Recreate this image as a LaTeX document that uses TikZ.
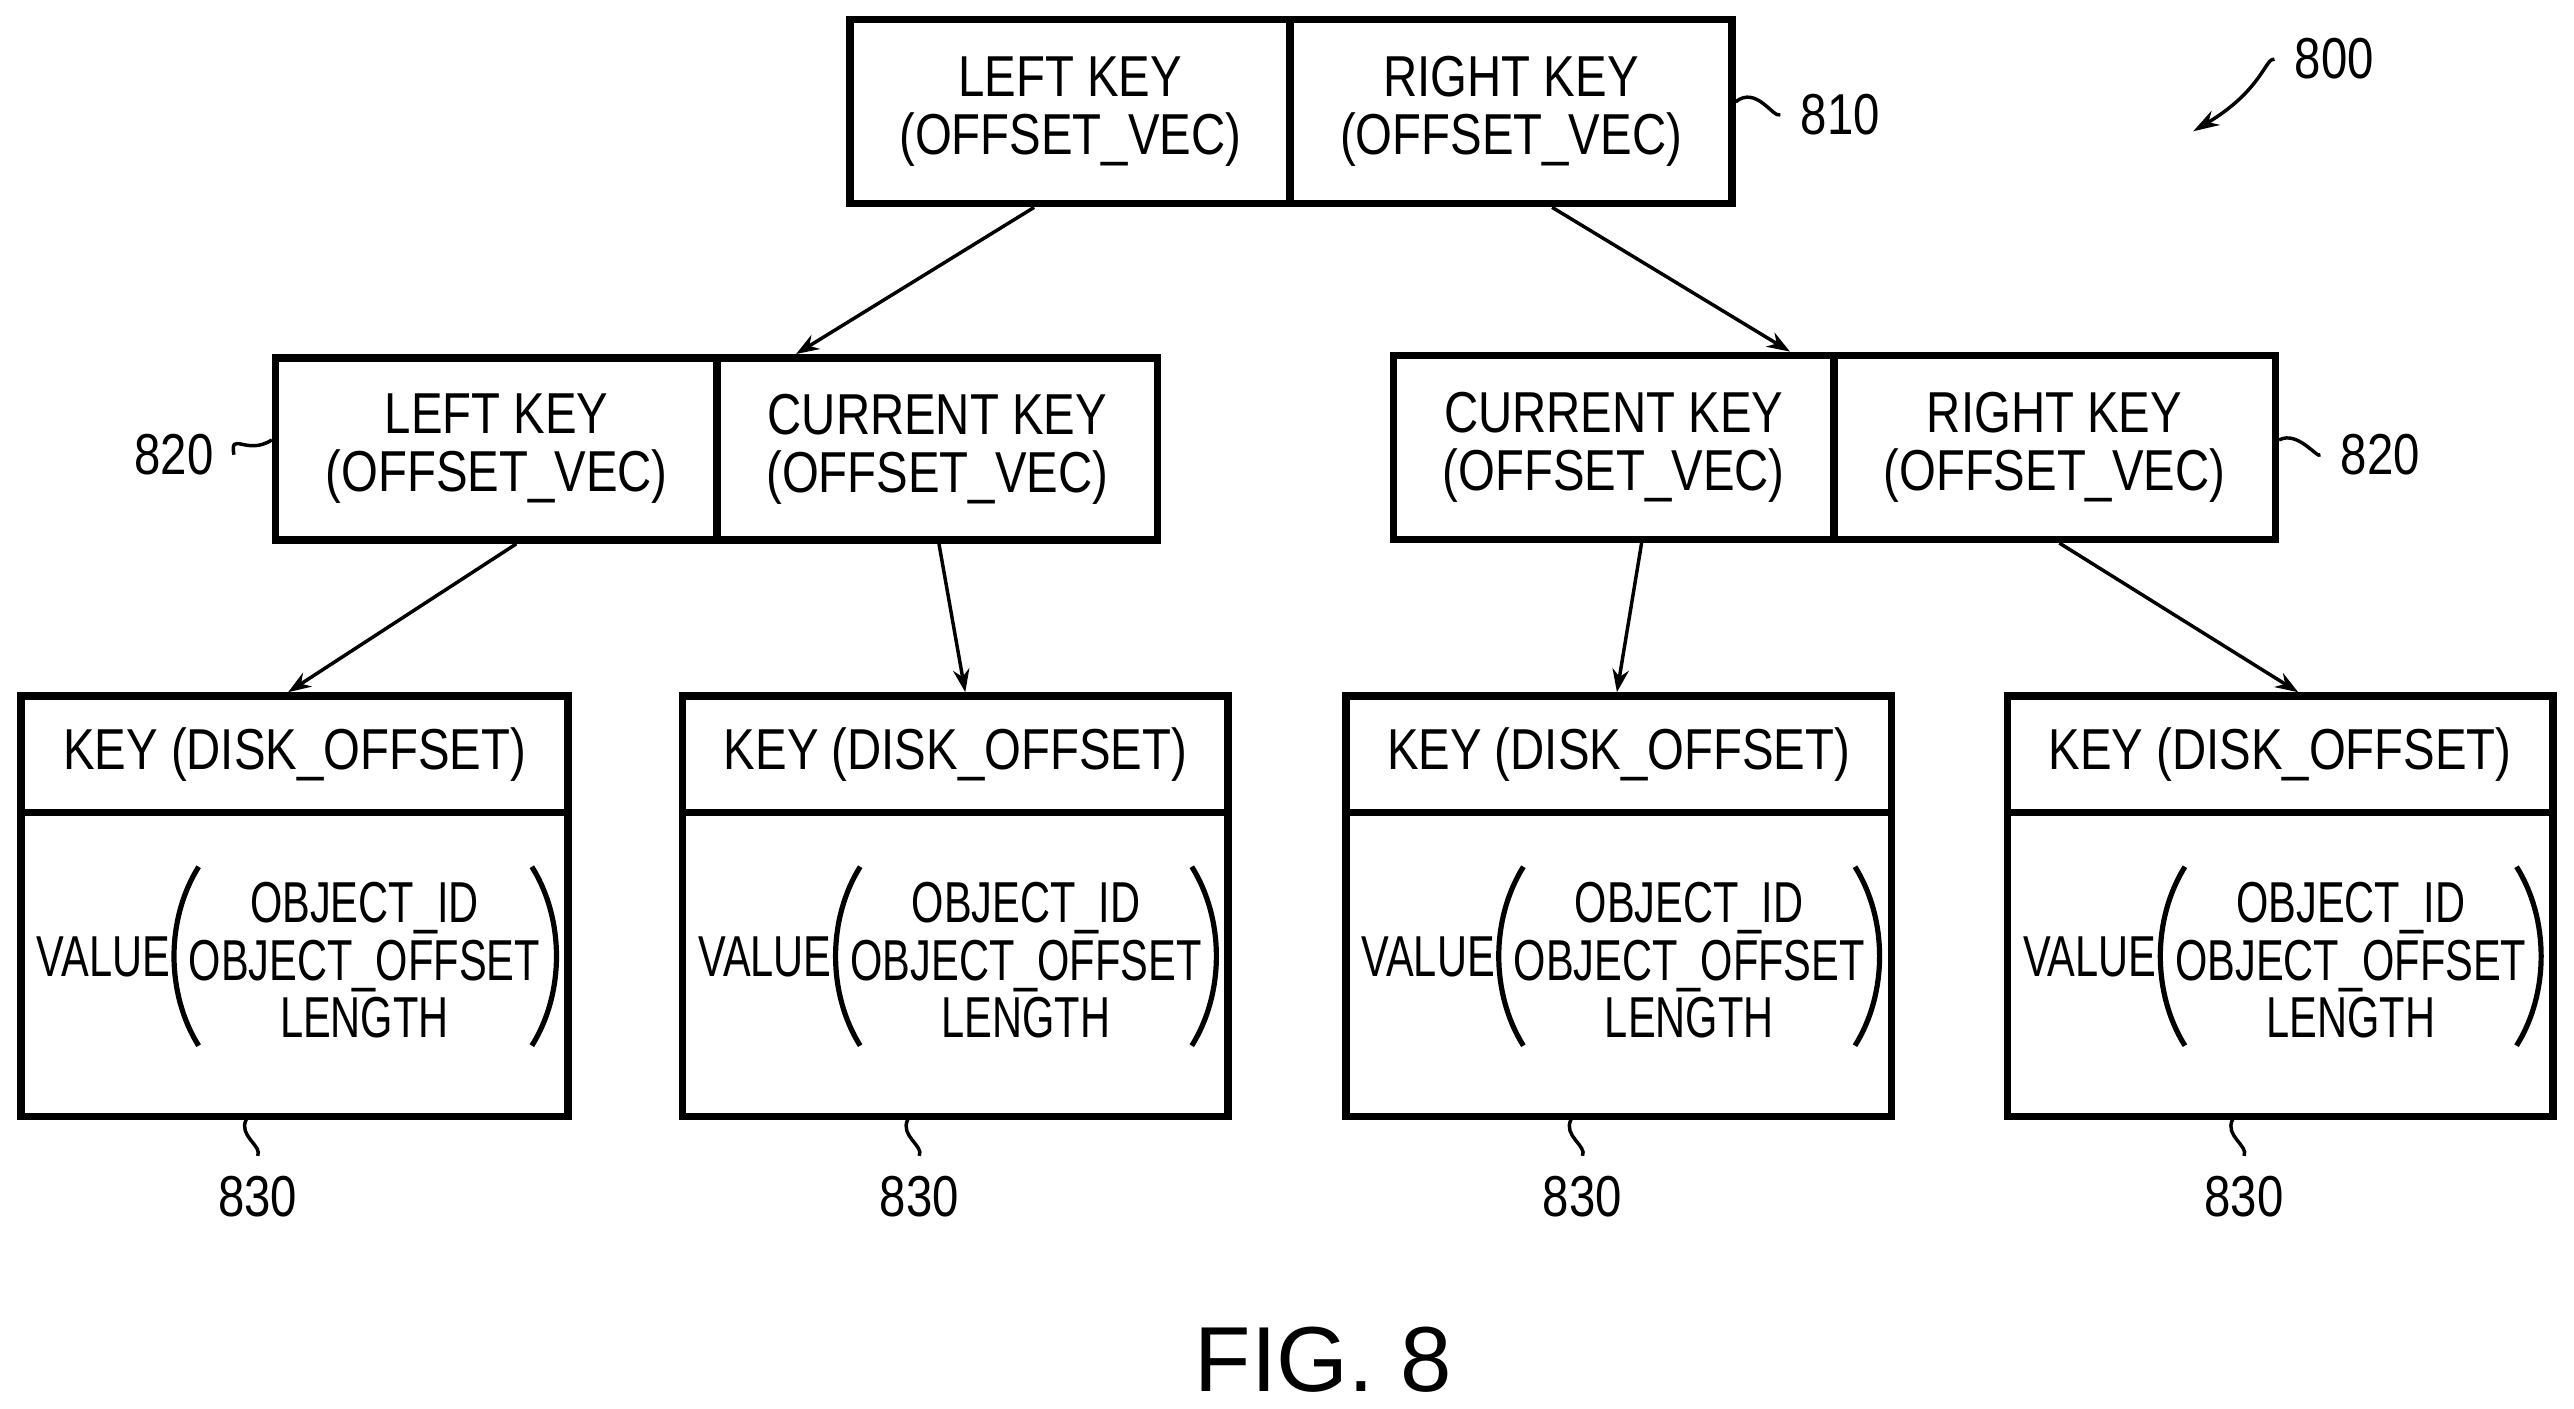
\documentclass[tikz,border=0pt]{standalone}
\usepackage{fontspec}
\setmainfont{Liberation Sans}[FakeStretch=0.82]
\newfontfamily\capfont{Liberation Sans}
\newfontfamily\narrowfont{Liberation Sans}[FakeStretch=0.72]
\usetikzlibrary{arrows.meta}
\begin{document}
\begin{tikzpicture}[x=0.01cm,y=-0.01cm,
  cell/.style={draw,line width=1.3pt,inner sep=0pt,align=center,font=\fontsize{10}{10}\selectfont},
  arr/.style={line width=0.6pt,-{Stealth[length=0.14cm,width=0.1cm,fill=gray!60]}},
  lead/.style={line width=0.6pt},
  lab/.style={font=\fontsize{10}{12}\selectfont},
  nar/.style={inner sep=0pt,font=\narrowfont\fontsize{10}{10}\selectfont}]
\useasboundingbox (0,0) rectangle (1568,858);
% root
\node[cell,minimum width=2.68cm,minimum height=1.12cm] (rL) at (652,68) {LEFT KEY\\(OFFSET\_VEC)};
\node[cell,minimum width=2.69cm,minimum height=1.12cm] (rR) at (920.5,68) {RIGHT KEY\\(OFFSET\_VEC)};
% mid left
\node[cell,minimum width=2.69cm,minimum height=1.11cm] (aL) at (302.5,273.5) {LEFT KEY\\(OFFSET\_VEC)};
\node[cell,minimum width=2.68cm,minimum height=1.11cm] (aR) at (571,273.5) {CURRENT KEY\\(OFFSET\_VEC)};
% mid right
\node[cell,minimum width=2.68cm,minimum height=1.12cm] (bL) at (983,272.5) {CURRENT KEY\\(OFFSET\_VEC)};
\node[cell,minimum width=2.69cm,minimum height=1.12cm] (bR) at (1251.5,272.5) {RIGHT KEY\\(OFFSET\_VEC)};
% leaves
\foreach \i/\l/\r in {1/13/346,2/416/748,3/820/1152,4/1223/1555}{
  \pgfmathsetmacro\w{(\r-\l)/100}
  \node[cell,minimum width=\w cm,minimum height=0.71cm] (k\i) at ({(\l+\r)/2},459.5) {KEY (DISK\_OFFSET)};
  \node[cell,minimum width=\w cm,minimum height=1.85cm] (v\i) at ({(\l+\r)/2},587.5) {};
  \node[nar,anchor=center] (val\i) at (\l+50,583) {VALUE};
  \node[nar,align=center] (obj\i) at (\l+209,585) {OBJECT\_ID\\OBJECT\_OFFSET\\LENGTH};
  \draw[line width=0.9pt] (\l+108,528) .. controls (\l+88,560) and (\l+88,605) .. (\l+108,637);
  \draw[line width=0.9pt] (\r-22,528) .. controls (\r-2,560) and (\r-2,605) .. (\r-22,637);
  \node[lab] (n830\i) at ({\l+144},729) {830};
  \draw[lead] ({\l+137},682) .. controls ({\l+132},692) and ({\l+147},698) .. (n830\i.north);
}
% arrows
\draw[arr] ([xshift=-0.22cm]rL.south) -- ([xshift=-0.86cm]aR.north);
\draw[arr] ([xshift=0.25cm]rR.south) -- ([xshift=-1.61cm]bR.north);
\draw[arr] ([xshift=0.12cm]aL.south) -- ([xshift=-0.04cm]k1.north);
\draw[arr] ([xshift=0.01cm]aR.south) -- ([xshift=0.06cm]k2.north);
\draw[arr] ([xshift=0.17cm]bL.south) -- ([xshift=-0.01cm]k3.north);
\draw[arr] ([xshift=0.03cm]bR.south) -- ([xshift=0.11cm]k4.north);
% labels
\node[lab] (n810) at (1121,70) {810};
\draw[lead] (rR.east |- 0,62) .. controls (1070,52) and (1080,72) .. (n810.west);
\node[lab] (n820a) at (106,277) {820};
\draw[lead] (n820a.east) .. controls (140,262) and (150,278) .. (aL.west |- 0,268);
\node[lab] (n820b) at (1450,277) {820};
\draw[lead] (bR.east |- 0,268) .. controls (1400,262) and (1412,280) .. (n820b.west);
\node[lab] (n800) at (1422,36) {800};
\coordinate (t800) at (1336,80);
\draw[lead,-{Stealth[length=0.16cm,width=0.1cm,fill=gray!60]}] (n800.west) .. controls (1380,35) and (1378,55) .. (t800);
\node[font=\capfont\fontsize{16}{18}\selectfont] (fig) at (806,828) {FIG. 8};
\end{tikzpicture}
\end{document}
